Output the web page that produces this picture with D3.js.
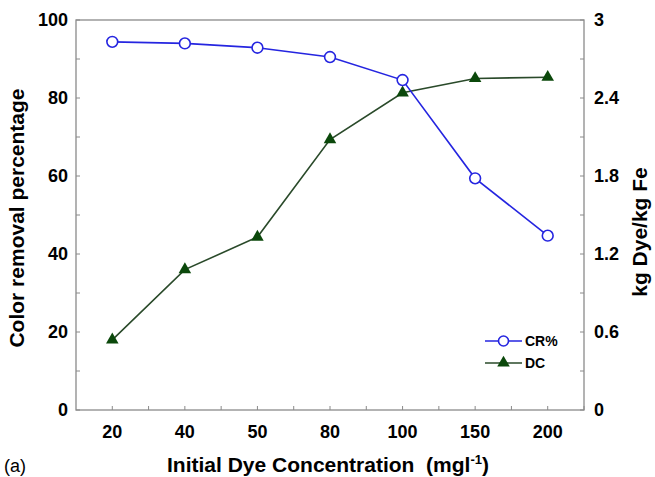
<!DOCTYPE html>
<html>
<head>
<meta charset="utf-8">
<script src="https://cdn.jsdelivr.net/npm/d3@7"></script>
<style>
  body { margin: 0; background: #fff; }
  text { font-family: "Liberation Sans", Arial, sans-serif; white-space: pre; }
</style>
</head>
<body>
<div id="chart"></div>
<script>
// data
var concentrations = ["20", "40", "50", "80", "100", "150", "200"];
var colorRemoval = [94.4, 94.0, 92.9, 90.5, 84.6, 59.4, 44.7];
var dyeCapacity = [0.54, 1.08, 1.33, 2.08, 2.44, 2.55, 2.56];
var leftTicks = [0, 20, 40, 60, 80, 100];
var rightTicks = [0, 0.6, 1.2, 1.8, 2.4, 3];

var width = 655,
    height = 477;

var margin = {
    top: 20,
    bottom: 67,
    left: 76,
    right: 71
};

var innerW = width - margin.left - margin.right;
var innerH = height - margin.top - margin.bottom;

var blue = "#2525e0",
    green = "#0b480b",
    greenLine = "#2a4a2a",
    axisColor = "#8a8a8a";

var svg = d3.select("#chart")
    .append("svg")
    .attr("width", width)
    .attr("height", height)
    .append("g")
    .attr("transform", "translate(" + margin.left + "," + margin.top + ")");

var x_scale = d3.scaleBand()
    .domain(concentrations)
    .range([0, innerW]);

var y_left = d3.scaleLinear()
    .domain([0, 100])
    .range([innerH, 0]);

var y_right = d3.scaleLinear()
    .domain([0, 3])
    .range([innerH, 0]);

function cx(i) {
    return x_scale(concentrations[i]) + x_scale.bandwidth() / 2;
}

// frame
svg.append("rect")
    .attr("width", innerW)
    .attr("height", innerH)
    .attr("fill", "none")
    .attr("stroke", axisColor)
    .attr("stroke-width", 1.3);

// inward ticks
var tickLen = 4;

var leftMinor = d3.range(0, 101, 10);
svg.selectAll(".ltick")
    .data(leftMinor)
    .enter()
    .append("line")
    .attr("x1", 0)
    .attr("x2", tickLen)
    .attr("y1", function(d) { return y_left(d); })
    .attr("y2", function(d) { return y_left(d); })
    .attr("stroke", axisColor);

var rightMinor = d3.range(0, 11).map(function(i) { return i * 0.3; });
svg.selectAll(".rtick")
    .data(rightMinor)
    .enter()
    .append("line")
    .attr("x1", innerW)
    .attr("x2", innerW - tickLen)
    .attr("y1", function(d) { return y_right(d); })
    .attr("y2", function(d) { return y_right(d); })
    .attr("stroke", axisColor);

var xTickPos = [];
concentrations.forEach(function(c, i) {
    xTickPos.push(cx(i));
    xTickPos.push(x_scale(c) + x_scale.bandwidth());
});
svg.selectAll(".xtick")
    .data(xTickPos)
    .enter()
    .append("line")
    .attr("x1", function(d) { return d; })
    .attr("x2", function(d) { return d; })
    .attr("y1", innerH)
    .attr("y2", innerH - tickLen)
    .attr("stroke", axisColor);

// tick labels
svg.selectAll(".llabel")
    .data(leftTicks)
    .enter()
    .append("text")
    .attr("x", -8)
    .attr("y", function(d) { return y_left(d); })
    .attr("dy", "0.36em")
    .attr("text-anchor", "end")
    .attr("font-size", 18)
    .attr("font-weight", "bold")
    .text(function(d) { return d; });

svg.selectAll(".rlabel")
    .data(rightTicks)
    .enter()
    .append("text")
    .attr("x", innerW + 10)
    .attr("y", function(d) { return y_right(d); })
    .attr("dy", "0.36em")
    .attr("text-anchor", "start")
    .attr("font-size", 18)
    .attr("font-weight", "bold")
    .text(function(d) { return d; });

svg.selectAll(".xlabel")
    .data(concentrations)
    .enter()
    .append("text")
    .attr("x", function(d, i) { return cx(i); })
    .attr("y", innerH + 28)
    .attr("text-anchor", "middle")
    .attr("font-size", 18)
    .attr("font-weight", "bold")
    .text(function(d) { return d; });

// axis titles
var xTitle = svg.append("text")
    .attr("x", 328 - margin.left)
    .attr("y", 472 - margin.top)
    .attr("text-anchor", "middle")
    .attr("font-size", 21)
    .attr("font-weight", "bold");
xTitle.append("tspan").text("Initial Dye Concentration  (mgl");
xTitle.append("tspan").attr("dy", -8).attr("font-size", 13).text("-1");
xTitle.append("tspan").attr("dy", 8).text(")");

svg.append("text")
    .attr("transform", "translate(" + (24 - margin.left) + "," + (innerH / 2 + 3) + ")rotate(-90)")
    .attr("text-anchor", "middle")
    .attr("font-size", 21)
    .attr("font-weight", "bold")
    .text("Color removal percentage");

svg.append("text")
    .attr("transform", "translate(" + (647 - margin.left) + "," + (232 - margin.top) + ")rotate(-90)")
    .attr("text-anchor", "middle")
    .attr("font-size", 21)
    .attr("font-weight", "bold")
    .text("kg Dye/kg Fe");

svg.append("text")
    .attr("x", 4 - margin.left)
    .attr("y", 472 - margin.top)
    .attr("font-size", 18)
    .text("(a)");

// series lines
var lineLeft = d3.line()
    .x(function(d, i) { return cx(i); })
    .y(function(d) { return y_left(d); });

var lineRight = d3.line()
    .x(function(d, i) { return cx(i); })
    .y(function(d) { return y_right(d); });

svg.append("path")
    .datum(dyeCapacity)
    .attr("d", lineRight)
    .attr("fill", "none")
    .attr("stroke", greenLine)
    .attr("stroke-width", 1.6);

svg.append("path")
    .datum(colorRemoval)
    .attr("d", lineLeft)
    .attr("fill", "none")
    .attr("stroke", blue)
    .attr("stroke-width", 1.6);

var triangle = d3.symbol().type(d3.symbolTriangle).size(68);

svg.selectAll(".tri")
    .data(dyeCapacity)
    .enter()
    .append("path")
    .attr("d", triangle)
    .attr("transform", function(d, i) { return "translate(" + cx(i) + "," + y_right(d) + ")"; })
    .attr("fill", green);

svg.selectAll(".circ")
    .data(colorRemoval)
    .enter()
    .append("circle")
    .attr("cx", function(d, i) { return cx(i); })
    .attr("cy", function(d) { return y_left(d); })
    .attr("r", 5.4)
    .attr("fill", "#fff")
    .attr("stroke", blue)
    .attr("stroke-width", 1.6);

// legend
var legend = svg.append("g")
    .attr("transform", "translate(" + (485 - margin.left) + "," + (341 - margin.top) + ")");

legend.append("line")
    .attr("x1", 0).attr("x2", 37)
    .attr("stroke", blue).attr("stroke-width", 1.6);
legend.append("circle")
    .attr("cx", 18.5).attr("r", 5)
    .attr("fill", "#fff").attr("stroke", blue).attr("stroke-width", 1.6);
legend.append("text")
    .attr("x", 40).attr("dy", "0.36em")
    .attr("font-size", 14).attr("font-weight", "bold")
    .text("CR%");

legend.append("line")
    .attr("x1", 0).attr("x2", 37)
    .attr("y1", 22).attr("y2", 22)
    .attr("stroke", greenLine).attr("stroke-width", 1.6);
legend.append("path")
    .attr("d", triangle)
    .attr("transform", "translate(18.5,22)")
    .attr("fill", green);
legend.append("text")
    .attr("x", 40).attr("y", 22).attr("dy", "0.36em")
    .attr("font-size", 14).attr("font-weight", "bold")
    .text("DC");
</script>
</body>
</html>
